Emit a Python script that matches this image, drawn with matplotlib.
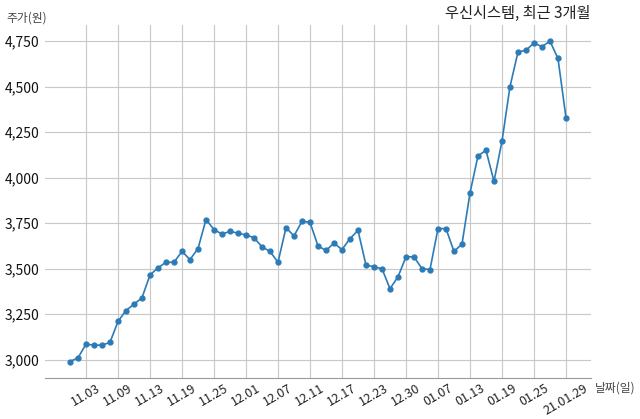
import matplotlib
matplotlib.use('Agg')
import matplotlib.pyplot as plt
from matplotlib.ticker import MultipleLocator, StrMethodFormatter

plt.rcParams['font.family'] = ['Noto Sans CJK KR', 'DejaVu Sans']

# 거래일 (20.10.30 ~ 21.01.29)
dates = ['10.30', '11.02', '11.03', '11.04', '11.05', '11.06', '11.09', '11.10', '11.11',
         '11.12', '11.13', '11.16', '11.17', '11.18', '11.19', '11.20', '11.23', '11.24',
         '11.25', '11.26', '11.27', '11.30', '12.01', '12.02', '12.03', '12.04', '12.07',
         '12.08', '12.09', '12.10', '12.11', '12.14', '12.15', '12.16', '12.17', '12.18',
         '12.21', '12.22', '12.23', '12.24', '12.28', '12.29', '12.30', '01.04', '01.05',
         '01.06', '01.07', '01.08', '01.11', '01.12', '01.13', '01.14', '01.15', '01.18',
         '01.19', '01.20', '01.21', '01.22', '01.25', '01.26', '01.27', '01.28', '21.01.29']

# 종가 (원)
prices = [2990, 3010, 3085, 3080, 3080, 3095, 3210, 3270, 3305, 3340,
          3465, 3505, 3535, 3535, 3595, 3550, 3610, 3770, 3715, 3690,
          3705, 3695, 3685, 3670, 3620, 3595, 3535, 3725, 3680, 3760,
          3755, 3625, 3600, 3640, 3605, 3665, 3710, 3520, 3510, 3500,
          3390, 3455, 3565, 3565, 3500, 3495, 3720, 3720, 3595, 3635,
          3915, 4120, 4150, 3980, 4200, 4500, 4690, 4700, 4740, 4720,
          4750, 4655, 4330]

tick_idx = list(range(2, len(dates), 4))
tick_labels = [dates[i] for i in tick_idx]

fig = plt.figure(figsize=(6.4, 4.19), dpi=100)
ax = fig.add_axes([0.0706, 0.099, 0.8525, 0.841])

x = list(range(len(prices)))
ax.plot(x, prices, color='#2c7bb6', linewidth=1.2, marker='o', markersize=3.5)

ax.yaxis.set_major_locator(MultipleLocator(250))
ax.yaxis.set_major_formatter(StrMethodFormatter('{x:,.0f}'))
ax.set_xticks(tick_idx)
ax.set_xticklabels(tick_labels, rotation=30, ha='center', fontsize=9, color='#222222')
ax.tick_params(axis='y', labelsize=10, colors='#111111', length=0, pad=4)
ax.tick_params(axis='x', length=0, pad=3)

ax.grid(True, color='#c8c8c8', linewidth=0.8)
ax.set_axisbelow(True)
for s in ['top', 'right', 'left']:
    ax.spines[s].set_visible(False)
ax.spines['bottom'].set_color('#999999')

fig.text(0.922, 0.968, '우신시스템, 최근 3개월', ha='right', va='center', fontsize=11, color='#222222')
fig.text(0.01, 0.958, '주가(원)', ha='left', va='center', fontsize=8.5, color='#444444')
fig.text(0.93, 0.074, '날짜(일)', ha='left', va='center', fontsize=8.5, color='#444444')

fig.savefig('out.png', dpi=100)
